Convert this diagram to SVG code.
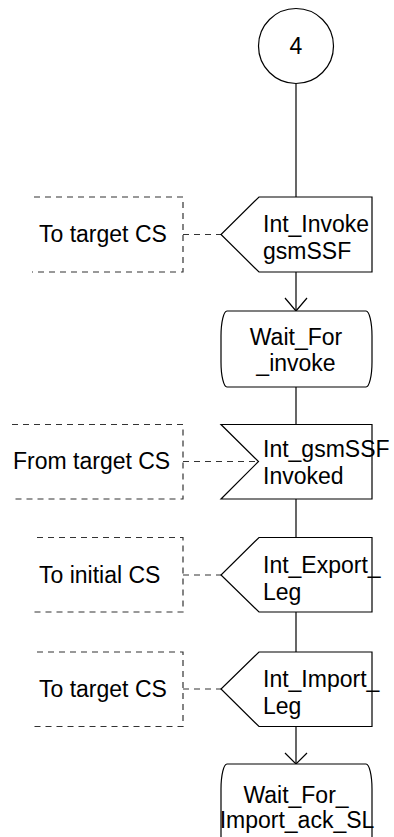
<svg xmlns="http://www.w3.org/2000/svg" width="394" height="837" viewBox="0 0 394 837">
<defs>
<style>
.s{fill:#fff;stroke:#000;stroke-width:1.2}
.d{fill:none;stroke:#333;stroke-width:1.2;stroke-dasharray:6 5}
.l{fill:none;stroke:#000;stroke-width:1.2}
text{font-family:"Liberation Sans",Arial,sans-serif;font-size:23px;fill:#000}
.m{text-anchor:middle}
</style>
</defs>
<rect width="394" height="837" fill="#fff"/>
<g id="connectors">
<line class="l" x1="296" y1="83.5" x2="296" y2="197"/>
<line class="l" x1="296" y1="272" x2="296" y2="311"/>
<polyline class="l" points="285,298 296,311 307,298"/>
<line class="l" x1="296" y1="387" x2="296" y2="424"/>
<line class="l" x1="296" y1="499" x2="296" y2="537"/>
<line class="l" x1="296" y1="612" x2="296" y2="652"/>
<line class="l" x1="296" y1="727" x2="296" y2="764"/>
<polyline class="l" points="285,753 296,764 307,753"/>
<line class="d" x1="183" y1="234.5" x2="221" y2="234.5"/>
<line class="d" x1="183" y1="461.5" x2="258" y2="461.5"/>
<line class="d" x1="183" y1="575" x2="221" y2="575"/>
<line class="d" x1="183" y1="689" x2="221" y2="689"/>
</g>
<g id="n4">
<circle class="s" cx="296" cy="46" r="37.5"/>
<text class="m" x="296" y="54">4</text>
</g>
<g id="c1">
<path class="d" d="M34,197 H183 V272 H32"/>
<text x="39" y="242">To target CS</text>
</g>
<g id="o1">
<path class="s" d="M259,197 H372 V272 H259 L221,234.5 Z"/>
<text x="263" y="232">Int_Invoke</text>
<text x="263" y="259">gsmSSF</text>
</g>
<g id="st1">
<path class="s" d="M227,311 H366 A6,25 0 0 1 372,336 V362 A6,25 0 0 1 366,387 H227 A6,25 0 0 1 221,362 V336 A6,25 0 0 1 227,311 Z"/>
<text class="m" x="296" y="345">Wait_For</text>
<text class="m" x="296" y="371">_invoke</text>
</g>
<g id="c2">
<path class="d" d="M12,424.5 H183 V499 H12"/>
<text x="13" y="469">From target CS</text>
</g>
<g id="i1">
<path class="s" d="M221,424.5 H372 V499 H221 L258.5,461.5 Z"/>
<text x="263" y="457">Int_gsmSSF</text>
<text x="263" y="484">Invoked</text>
</g>
<g id="c3">
<path class="d" d="M37,537.5 H183 V612 H32"/>
<text x="39" y="583">To initial CS</text>
</g>
<g id="o2">
<path class="s" d="M259,537.5 H372 V612 H259 L221,575 Z"/>
<text x="263" y="573">Int_Export_</text>
<text x="263" y="600">Leg</text>
</g>
<g id="c4">
<path class="d" d="M37,652 H183 V726.5 H32"/>
<text x="39" y="697">To target CS</text>
</g>
<g id="o3">
<path class="s" d="M259,652 H372 V726.5 H259 L221,689 Z"/>
<text x="263" y="687">Int_Import_</text>
<text x="263" y="714">Leg</text>
</g>
<g id="st2">
<path class="s" d="M227,764 H366 A6,25 0 0 1 372,789 V850 H221 V789 A6,25 0 0 1 227,764 Z"/>
<text class="m" x="296" y="803">Wait_For_</text>
<text class="m" x="297" y="828">Import_ack_SL</text>
</g>
</svg>
